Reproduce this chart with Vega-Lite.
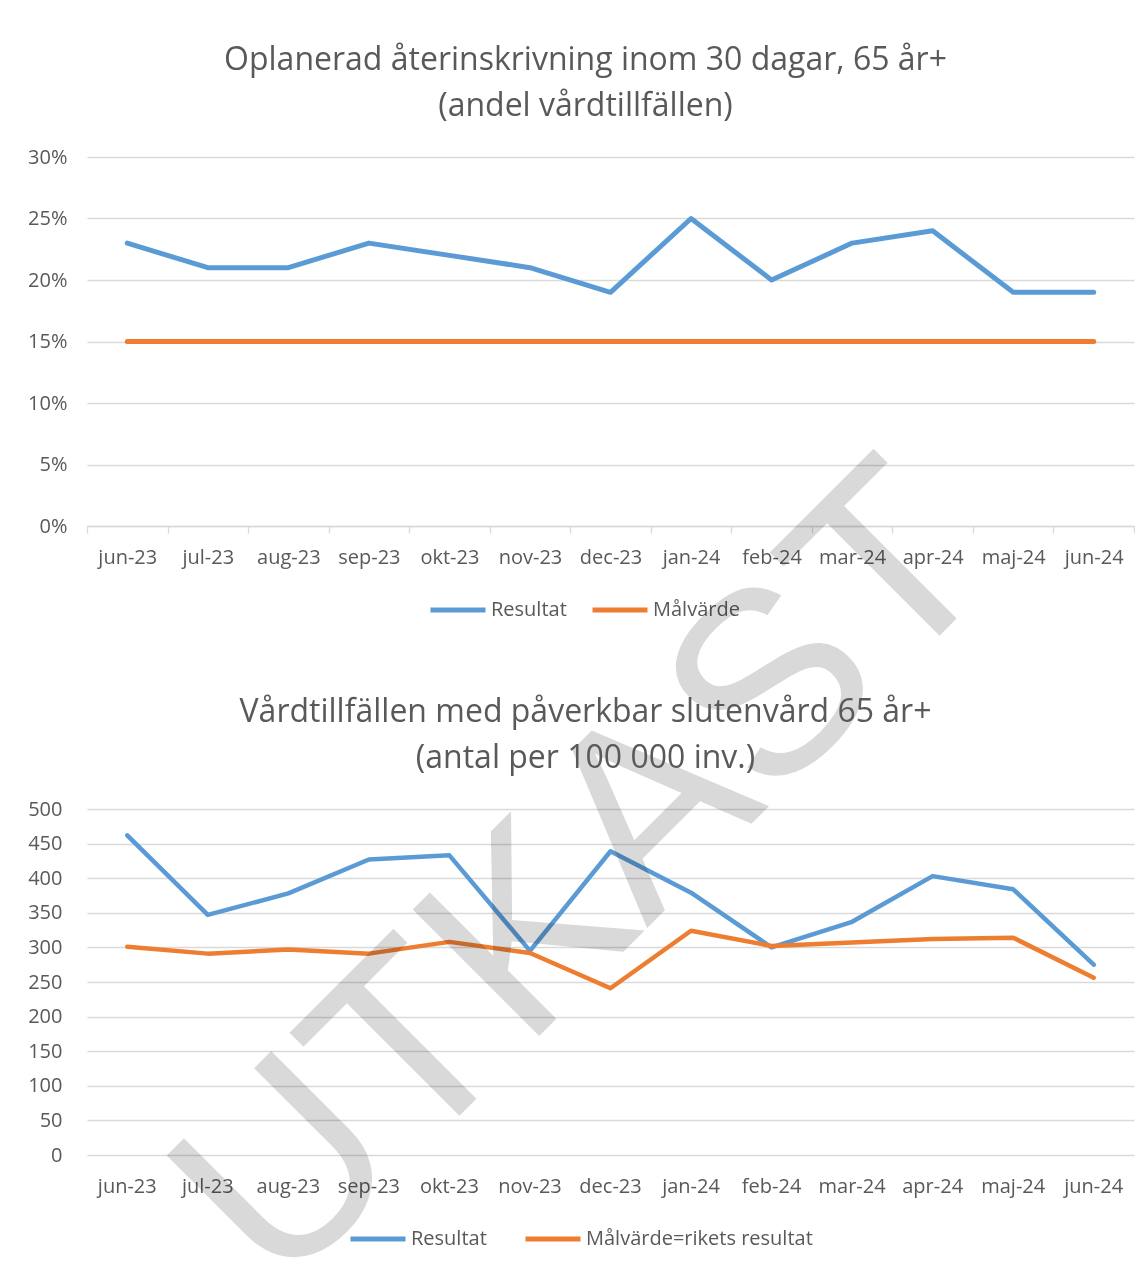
{
  "$schema": "https://vega.github.io/schema/vega-lite/v6.json",
  "autosize": "pad",
  "padding": {"left": 27, "top": 44, "right": 0, "bottom": 0},
  "background": "white",
  "bounds": "flush",
  "spacing": 283,
  "config": {
    "font": "Open Sans",
    "view": {"stroke": null},
    "axis": {
      "labelFont": "Open Sans",
      "labelFontSize": 20,
      "labelColor": "#595959",
      "labelOverlap": false,
      "gridColor": "#D9D9D9",
      "gridWidth": 1.3,
      "domainColor": "#D9D9D9",
      "domainWidth": 1.3,
      "tickColor": "#D9D9D9",
      "tickWidth": 1.3,
      "title": null
    },
    "title": {
      "font": "Open Sans",
      "fontSize": 32,
      "fontWeight": "normal",
      "color": "#595959",
      "lineHeight": 46,
      "anchor": "middle",
      "dx": -25
    },
    "legend": {
      "orient": "none",
      "direction": "horizontal",
      "title": null,
      "labelFont": "Open Sans",
      "labelFontSize": 20,
      "labelColor": "#595959",
      "labelLimit": 400,
      "symbolType": "stroke",
      "symbolSize": 3025,
      "symbolStrokeWidth": 5,
      "labelOffset": 3
    }
  },
  "datasets": {
    "top": [
      {"månad": "jun-23", "serie": "Resultat", "värde": 0.23},
      {"månad": "jul-23", "serie": "Resultat", "värde": 0.21},
      {"månad": "aug-23", "serie": "Resultat", "värde": 0.21},
      {"månad": "sep-23", "serie": "Resultat", "värde": 0.23},
      {"månad": "okt-23", "serie": "Resultat", "värde": 0.22},
      {"månad": "nov-23", "serie": "Resultat", "värde": 0.21},
      {"månad": "dec-23", "serie": "Resultat", "värde": 0.19},
      {"månad": "jan-24", "serie": "Resultat", "värde": 0.25},
      {"månad": "feb-24", "serie": "Resultat", "värde": 0.20},
      {"månad": "mar-24", "serie": "Resultat", "värde": 0.23},
      {"månad": "apr-24", "serie": "Resultat", "värde": 0.24},
      {"månad": "maj-24", "serie": "Resultat", "värde": 0.19},
      {"månad": "jun-24", "serie": "Resultat", "värde": 0.19},
      {"månad": "jun-23", "serie": "Målvärde", "värde": 0.15},
      {"månad": "jul-23", "serie": "Målvärde", "värde": 0.15},
      {"månad": "aug-23", "serie": "Målvärde", "värde": 0.15},
      {"månad": "sep-23", "serie": "Målvärde", "värde": 0.15},
      {"månad": "okt-23", "serie": "Målvärde", "värde": 0.15},
      {"månad": "nov-23", "serie": "Målvärde", "värde": 0.15},
      {"månad": "dec-23", "serie": "Målvärde", "värde": 0.15},
      {"månad": "jan-24", "serie": "Målvärde", "värde": 0.15},
      {"månad": "feb-24", "serie": "Målvärde", "värde": 0.15},
      {"månad": "mar-24", "serie": "Målvärde", "värde": 0.15},
      {"månad": "apr-24", "serie": "Målvärde", "värde": 0.15},
      {"månad": "maj-24", "serie": "Målvärde", "värde": 0.15},
      {"månad": "jun-24", "serie": "Målvärde", "värde": 0.15}
    ],
    "bottom": [
      {"månad": "jun-23", "serie": "Resultat", "värde": 462},
      {"månad": "jul-23", "serie": "Resultat", "värde": 347},
      {"månad": "aug-23", "serie": "Resultat", "värde": 378},
      {"månad": "sep-23", "serie": "Resultat", "värde": 427},
      {"månad": "okt-23", "serie": "Resultat", "värde": 433},
      {"månad": "nov-23", "serie": "Resultat", "värde": 295},
      {"månad": "dec-23", "serie": "Resultat", "värde": 439},
      {"månad": "jan-24", "serie": "Resultat", "värde": 379},
      {"månad": "feb-24", "serie": "Resultat", "värde": 300},
      {"månad": "mar-24", "serie": "Resultat", "värde": 337},
      {"månad": "apr-24", "serie": "Resultat", "värde": 403},
      {"månad": "maj-24", "serie": "Resultat", "värde": 384},
      {"månad": "jun-24", "serie": "Resultat", "värde": 275},
      {"månad": "jun-23", "serie": "Målvärde=rikets resultat", "värde": 301},
      {"månad": "jul-23", "serie": "Målvärde=rikets resultat", "värde": 291},
      {"månad": "aug-23", "serie": "Målvärde=rikets resultat", "värde": 297},
      {"månad": "sep-23", "serie": "Målvärde=rikets resultat", "värde": 291},
      {"månad": "okt-23", "serie": "Målvärde=rikets resultat", "värde": 308},
      {"månad": "nov-23", "serie": "Målvärde=rikets resultat", "värde": 292},
      {"månad": "dec-23", "serie": "Målvärde=rikets resultat", "värde": 241},
      {"månad": "jan-24", "serie": "Målvärde=rikets resultat", "värde": 324},
      {"månad": "feb-24", "serie": "Målvärde=rikets resultat", "värde": 302},
      {"månad": "mar-24", "serie": "Målvärde=rikets resultat", "värde": 307},
      {"månad": "apr-24", "serie": "Målvärde=rikets resultat", "värde": 312},
      {"månad": "maj-24", "serie": "Målvärde=rikets resultat", "värde": 314},
      {"månad": "jun-24", "serie": "Målvärde=rikets resultat", "värde": 256}
    ]
  },
  "vconcat": [
    {
      "width": 1047,
      "height": 369,
      "title": {"text": ["Oplanerad återinskrivning inom 30 dagar, 65 år+", "(andel vårdtillfällen)"], "offset": 24},
      "data": {"name": "top"},
      "mark": {"type": "line", "strokeWidth": 5, "strokeCap": "round", "strokeJoin": "round"},
      "encoding": {
        "x": {
          "field": "månad", "type": "ordinal",
          "sort": ["jun-23","jul-23","aug-23","sep-23","okt-23","nov-23","dec-23","jan-24","feb-24","mar-24","apr-24","maj-24","jun-24"],
          "scale": {"type": "band", "paddingInner": 0, "paddingOuter": 0},
          "axis": {"labelAngle": 0, "domain": true, "ticks": true, "tickBand": "extent", "tickSize": 7, "labelPadding": 14, "grid": false}
        },
        "y": {
          "field": "värde", "type": "quantitative",
          "scale": {"domain": [0, 0.3], "nice": false},
          "axis": {"values": [0, 0.05, 0.1, 0.15, 0.2, 0.25, 0.3], "format": ".0%", "domain": false, "ticks": false, "labelPadding": 20, "grid": true}
        },
        "color": {
          "field": "serie", "type": "nominal",
          "scale": {"domain": ["Resultat", "Målvärde"], "range": ["#5B9BD5", "#ED7D31"]},
          "legend": {"legendX": 341, "legendY": 423, "columnPadding": 15}
        }
      }
    },
    {
      "width": 1047,
      "height": 346,
      "title": {"text": ["Vårdtillfällen med påverkbar slutenvård 65 år+", "(antal per 100 000 inv.)"], "offset": -351},
      "layer": [
        {
          "data": {"name": "bottom"},
          "mark": {"type": "line", "strokeWidth": 4.5, "strokeCap": "round", "strokeJoin": "round"},
          "encoding": {
            "x": {
              "field": "månad", "type": "ordinal",
              "sort": ["jun-23","jul-23","aug-23","sep-23","okt-23","nov-23","dec-23","jan-24","feb-24","mar-24","apr-24","maj-24","jun-24"],
              "scale": {"type": "band", "paddingInner": 0, "paddingOuter": 0},
              "axis": {"labelAngle": 0, "domain": false, "ticks": false, "labelPadding": 21, "grid": false}
            },
            "y": {
              "field": "värde", "type": "quantitative",
              "scale": {"domain": [0, 500], "nice": false},
              "axis": {"values": [0, 50, 100, 150, 200, 250, 300, 350, 400, 450, 500], "tickCount": 11, "domain": false, "ticks": false, "labelPadding": 25, "grid": true}
            },
            "color": {
              "field": "serie", "type": "nominal",
              "scale": {"domain": ["Resultat", "Målvärde=rikets resultat"], "range": ["#5B9BD5", "#ED7D31"]},
              "legend": {"legendX": 261, "legendY": 400, "columnPadding": 28}
            }
          }
        },
        {
          "data": {"values": [{"t": "UTKAST"}]},
          "mark": {"type": "text", "font": "Liberation Sans", "fontSize": 260, "angle": 315, "color": "#D9D9D9", "blend": "multiply", "align": "center", "baseline": "middle", "dx": 34, "dy": 46},
          "encoding": {
            "x": {"datum": "nov-23", "type": "ordinal"},
            "y": {
              "datum": 412, "type": "quantitative",
              "scale": {"domain": [0, 500], "nice": false},
              "axis": {"values": [0, 50, 100, 150, 200, 250, 300, 350, 400, 450, 500], "tickCount": 11, "domain": false, "ticks": false, "labelPadding": 25, "grid": true}
            },
            "text": {"field": "t"}
          }
        }
      ]
    }
  ],
  "resolve": {"scale": {"color": "independent"}}
}
